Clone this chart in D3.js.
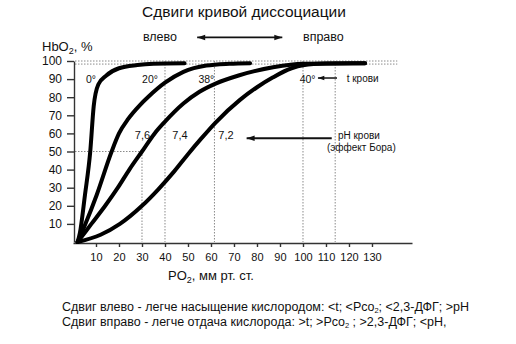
<!DOCTYPE html>
<html><head><meta charset="utf-8">
<script src="https://cdn.jsdelivr.net/npm/d3@7"></script>
<style>body{margin:0;background:#fff}svg{display:block;font-family:"Liberation Sans",Arial,sans-serif}</style>
</head><body><svg id="c" width="516" height="344"></svg>
<script>
// ---- data ----
const xTicks = [10,20,30,40,50,60,70,80,90,100,110,120,130];
const yTicks = [10,20,30,40,50,60,70,80,90,100];
const curve0deg  = [[2,0],[3,5],[5.2,26],[7.5,50],[9,75],[11,87],[14.5,92],[20,96],[28,97.8],[35,98.5],[48.5,98.8]];
const curve20deg = [[2,0],[5.2,9.4],[10.3,26],[16.8,50],[20,60],[24,68],[29,75.5],[33,80.5],[40,88],[48,94],[58,97.5],[68,98.5],[77,98.8]];
const curve38deg = [[2,0],[8,10],[14,20],[19.5,30],[24.5,40],[30,50],[35.5,60],[40,66.5],[48,76.5],[55,83],[62,87.5],[72,92],[87,96.5],[100,98.5],[127,98.8]];
const curve40deg = [[2,0],[12,4],[20.4,10],[30,20],[37,29],[44,39],[50,48.5],[56,57.5],[62,66],[72.6,78.5],[80,85.5],[87,91],[95,96],[100,97.7],[110,98.6],[127,98.8]];
const curves = [curve0deg, curve20deg, curve38deg, curve40deg];
const tempLabels = ["0°","20°","38°","40°"];
const tempLabelX = [7.8, 33.5, 58, 102];
const phLabels = ["7,6","7,4","7,2"];
const phLabelX = [30.2, 46.5, 66.5];
const vGuides = [40, 61.5, 100, 114];   // vertical dotted guides from 100 % down
const p50Guide = [30, 50];              // P50 guide point
const topGuides = [100, 98.3];          // horizontal dotted guides

// ---- layout ----
const svg = d3.select("#c");
const x = d3.scaleLinear().domain([0,147.4]).range([73,412]);
const y = d3.scaleLinear().domain([0,100]).range([242,61]);
const ink = "#111", axisInk = "#333", dotInk = "#8a8a8a";

// title
svg.append("text").attr("x",244).attr("y",17).attr("text-anchor","middle")
  .attr("font-size",15.5).attr("fill",ink).text("Сдвиги кривой диссоциации");

// direction row
svg.append("text").attr("x",x(30.4)).attr("y",y(110.8)).attr("font-size",12.5).attr("fill",ink).text("влево");
svg.append("text").attr("x",x(100)).attr("y",y(110.8)).attr("font-size",12.5).attr("fill",ink).text("вправо");

function arrow(x1,y1,x2,y2,w,head,both){
  svg.append("line").attr("x1",x1).attr("y1",y1).attr("x2",x2).attr("y2",y2)
    .attr("stroke",ink).attr("stroke-width",w);
  const hd = (xa,ya,dir)=>svg.append("path")
    .attr("d",`M${xa},${ya}L${xa-dir*head*1.6},${ya-head*0.55}L${xa-dir*head*1.6},${ya+head*0.55}Z`)
    .attr("fill",ink);
  hd(x2,y2,Math.sign(x2-x1));
  if(both) hd(x1,y1,Math.sign(x1-x2));
}
arrow(x(54),y(113),x(91),y(113),1.8,5,true);

// guides
const g = svg.append("g").attr("stroke",dotInk).attr("stroke-width",1).attr("stroke-dasharray","1.5,1.5").attr("fill","none");
topGuides.forEach(p=>g.append("line").attr("x1",x(0)+2).attr("x2",x(141)).attr("y1",y(p)).attr("y2",y(p)));
vGuides.forEach(v=>g.append("line").attr("x1",x(v)).attr("x2",x(v)).attr("y1",y(100)).attr("y2",y(0)));
g.append("line").attr("x1",x(0)+2).attr("x2",x(p50Guide[0])).attr("y1",y(p50Guide[1])).attr("y2",y(p50Guide[1]));
g.append("line").attr("x1",x(p50Guide[0])).attr("x2",x(p50Guide[0])).attr("y1",y(p50Guide[1])).attr("y2",y(0));

// axes
const xa = svg.append("g").attr("transform",`translate(0,${y(0)+1})`)
  .call(d3.axisBottom(x).tickValues(xTicks).tickSize(4).tickSizeOuter(0).tickPadding(6));
const ya = svg.append("g").attr("transform",`translate(${x(0)+1},0)`)
  .call(d3.axisLeft(y).tickValues(yTicks).tickSize(7).tickSizeOuter(0).tickPadding(5));
[xa,ya].forEach(a=>{
  a.selectAll("path,line").attr("stroke",axisInk).attr("stroke-width",1.4);
  a.selectAll("text").attr("fill",ink).attr("font-family","Liberation Sans, Arial, sans-serif");
});
xa.selectAll("text").attr("font-size",11);
ya.selectAll("text").attr("font-size",12);

// axis titles
const yt = svg.append("text").attr("x",42).attr("y",51).attr("font-size",13).attr("fill",ink);
yt.append("tspan").text("HbO");
yt.append("tspan").attr("font-size",9).attr("dy",3).text("2");
yt.append("tspan").attr("dy",-3).text(", %");
const xt = svg.append("text").attr("x",168).attr("y",280).attr("font-size",13).attr("fill",ink);
xt.append("tspan").text("PO");
xt.append("tspan").attr("font-size",9).attr("dy",3).text("2");
xt.append("tspan").attr("dy",-3).text(", мм рт. ст.");

// curves
const line = d3.line().x(d=>x(d[0])).y(d=>y(d[1])).curve(d3.curveMonotoneX);
svg.append("g").selectAll("path").data(curves).join("path")
  .attr("d",line).attr("fill","none").attr("stroke","#000").attr("stroke-width",4)
  .attr("stroke-linecap","round").attr("stroke-linejoin","round");

// curve labels
svg.append("g").selectAll("text").data(tempLabels).join("text")
  .attr("x",(d,i)=>x(tempLabelX[i])).attr("y",y(90)+4).attr("text-anchor","middle")
  .attr("font-size",10.5).attr("fill",ink).text(d=>d);
svg.append("g").selectAll("text").data(phLabels).join("text")
  .attr("x",(d,i)=>x(phLabelX[i])).attr("y",y(59)+4).attr("text-anchor","middle")
  .attr("font-size",11).attr("fill",ink).text(d=>d);

// annotations
arrow(x(114.8),y(90.6),x(106.5),y(90.6),1.5,4,false);
svg.append("text").attr("x",x(119)).attr("y",y(90.6)+4).attr("font-size",10).attr("fill",ink).text("t крови");
arrow(x(112.5),y(57.3),x(75.5),y(57.3),2,5,false);
svg.append("text").attr("x",x(115.2)).attr("y",139).attr("font-size",10).attr("fill",ink).text("pH крови");
svg.append("text").attr("x",x(110.4)).attr("y",151).attr("font-size",10).attr("fill",ink).text("(эффект Бора)");

// footnotes
const f1 = svg.append("text").attr("x",62).attr("y",311).attr("font-size",12.5).attr("fill",ink);
f1.append("tspan").text("Сдвиг влево - легче насыщение кислородом: <t; <Pco");
f1.append("tspan").attr("font-size",7.5).attr("dy",2).text("2");
f1.append("tspan").attr("dy",-2).text("; <2,3-ДФГ; >pH");
const f2 = svg.append("text").attr("x",62).attr("y",326).attr("font-size",12.5).attr("fill",ink);
f2.append("tspan").text("Сдвиг вправо - легче отдача кислорода: >t; >Pco");
f2.append("tspan").attr("font-size",7.5).attr("dy",2).text("2");
f2.append("tspan").attr("dy",-2).text(" ; >2,3-ДФГ; <pH,");
</script></body></html>
